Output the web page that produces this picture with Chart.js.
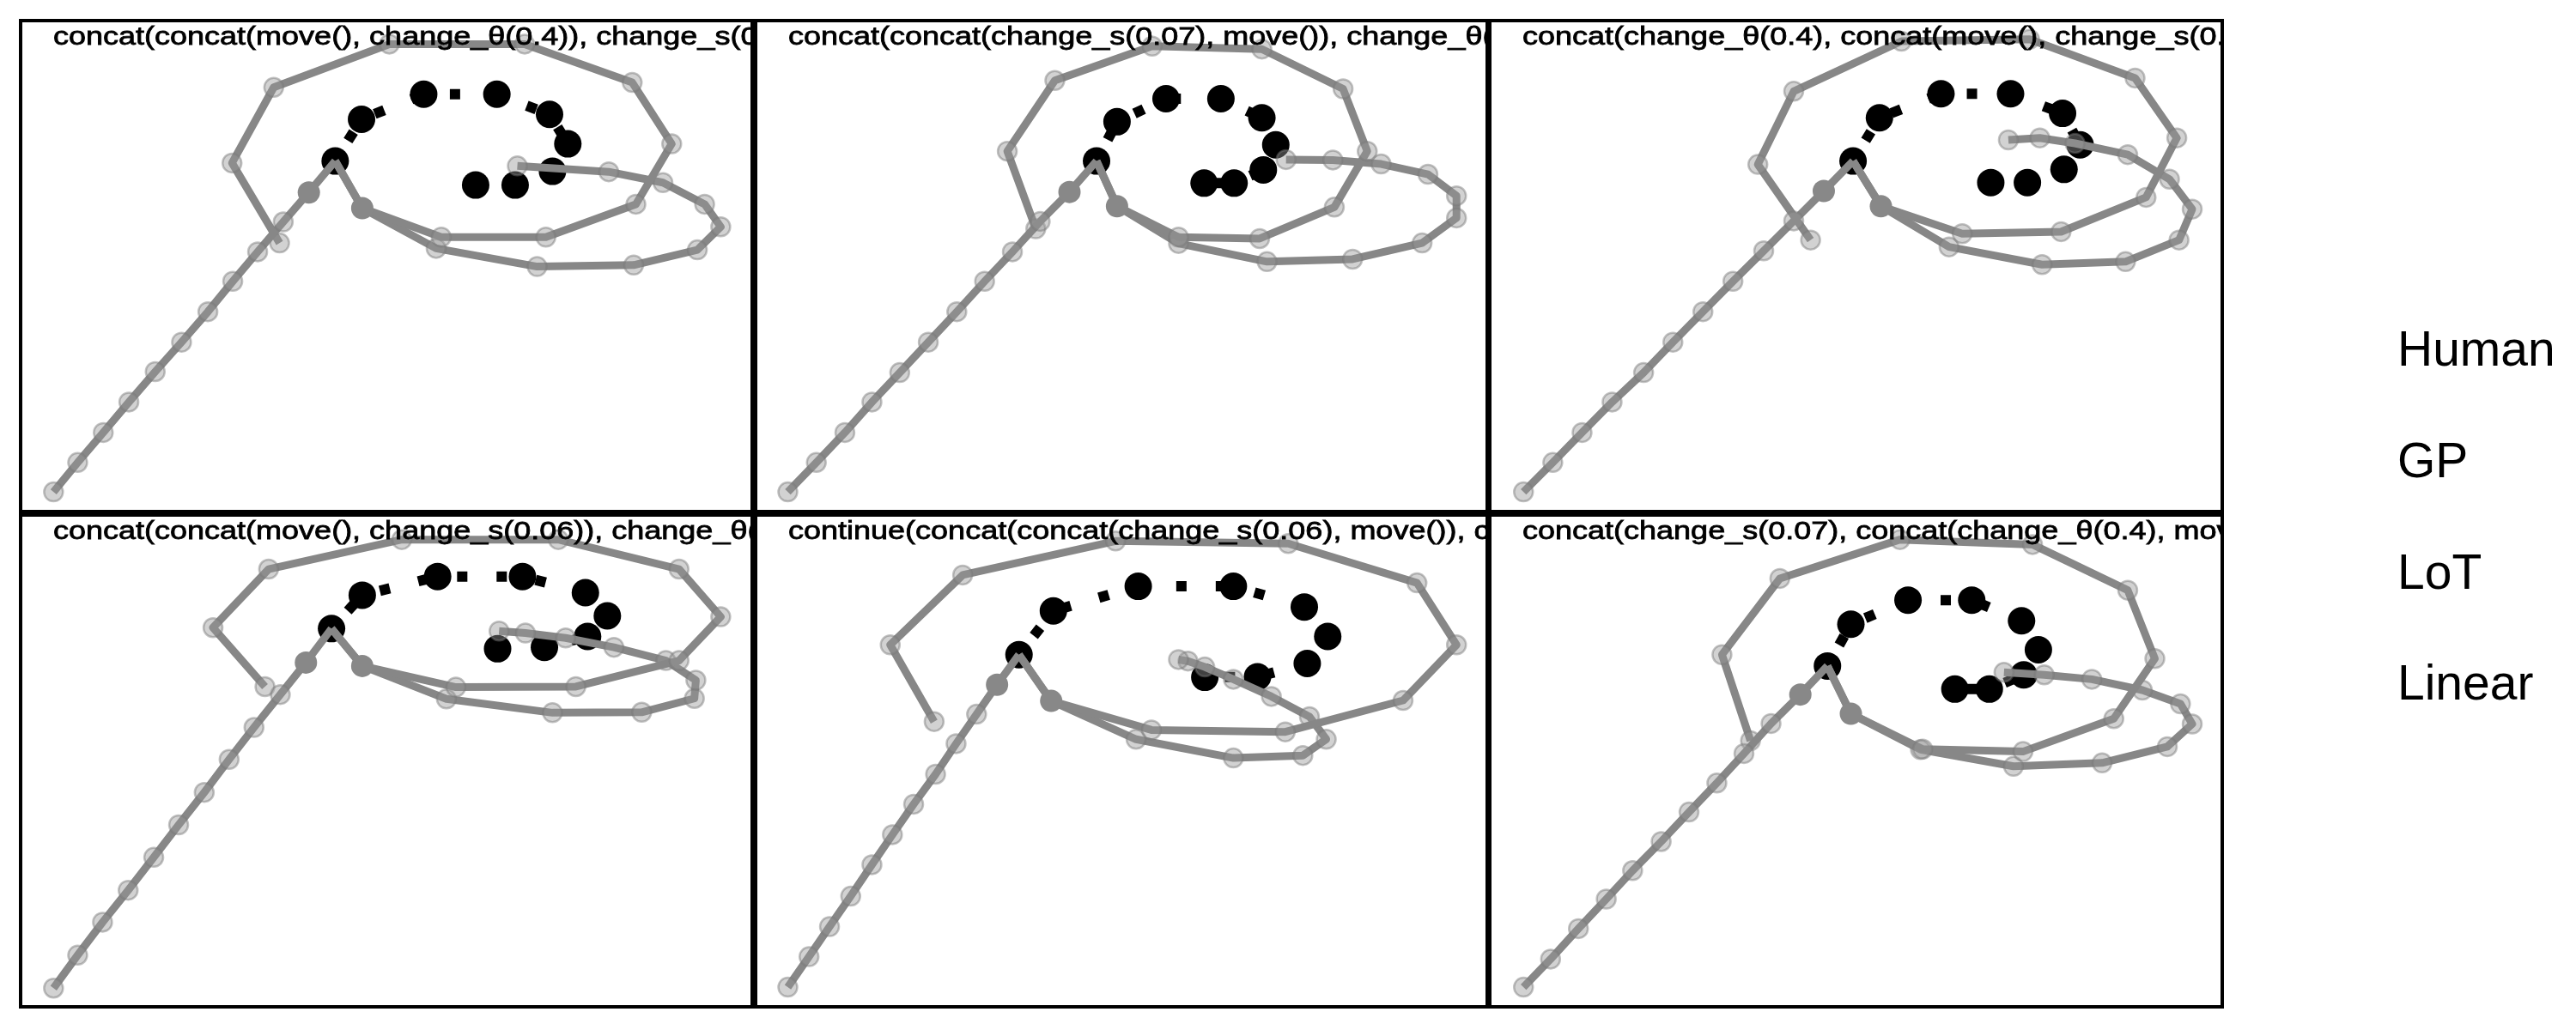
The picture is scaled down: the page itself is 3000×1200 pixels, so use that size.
<!DOCTYPE html>
<html>
<head>
<meta charset="utf-8">
<script src="https://cdn.jsdelivr.net/npm/chart.js@4.4.0/dist/chart.umd.min.js"></script>
<style>
  html, body { margin: 0; padding: 0; background: #ffffff; }
  body { width: 3000px; height: 1200px; position: relative; overflow: hidden; }
  canvas.panel { position: absolute; }
  .frame { position: absolute; box-sizing: border-box; border: 4px solid #000; pointer-events: none; }
  .leg { position: absolute; left: 2792px; font-family: "Liberation Sans", Arial, Helvetica, sans-serif; font-size: 57px; line-height: 57px; color: #000; white-space: nowrap; }
</style>
</head>
<body>
<script>
// ---------- data (panel-relative units, 0..100 in x and y) ----------
const titles = [
  "concat(concat(move(), change_θ(0.4)), change_s(0.07))",
  "concat(concat(change_s(0.07), move()), change_θ(0.4))",
  "concat(change_θ(0.4), concat(move(), change_s(0.07)))",
  "concat(concat(move(), change_s(0.06)), change_θ(0.4))",
  "continue(concat(concat(change_s(0.06), move()), change_θ(0.4)))",
  "concat(change_s(0.07), concat(change_θ(0.4), move()))"
];
const legendLabels = ["Human", "GP", "LoT", "Linear"];

// Panel 1
const p1Human = [[43.0,71.4],[46.6,79.9],[55.1,85.0],[65.1,85.0],[72.3,80.9],[74.8,74.9],[72.7,69.3],[67.6,66.5],[62.2,66.5]];
const p1Context = [[39.4,65.0],[46.7,61.8]];
const p1Linear = [[43.0,71.4],[39.4,65.0],[35.9,59.0],[32.4,52.9],[29.0,46.9],[25.6,40.7],[22.0,34.5],[18.4,28.5],[14.8,22.3],[11.3,16.1],[7.8,10.0],[4.5,4.0]];
const p1LoopA = [[43.0,71.4],[46.7,61.8],[57.5,55.9],[71.8,55.9],[84.1,62.6],[89.0,74.9],[83.6,87.4],[68.9,95.2],[50.4,95.2],[34.6,86.4],[28.9,71.0],[35.4,54.7]];
const p1LoopB = [[43.0,71.4],[46.7,61.8],[56.8,53.6],[70.6,49.9],[83.8,50.2],[92.5,53.3],[95.7,58.0],[93.5,62.6],[87.8,67.0],[80.4,69.2],[67.9,70.4]];

// Panel 2
const p2Human = [[46.6,71.4],[49.4,79.4],[56.1,84.1],[63.6,84.1],[69.2,80.2],[71.1,74.7],[69.4,69.6],[65.4,66.9],[61.3,66.9]];
const p2Context = [[42.9,65.1],[49.4,62.2]];
const p2Linear = [[46.6,71.4],[42.9,65.1],[38.9,59.1],[35.1,52.9],[31.3,46.9],[27.5,40.7],[23.6,34.5],[19.7,28.3],[15.9,22.3],[12.2,16.1],[8.3,10.0],[4.4,4.0]];
const p2LoopA = [[46.6,71.4],[49.4,62.2],[57.8,55.9],[68.9,55.6],[79.1,62.0],[83.6,73.4],[80.3,86.1],[69.2,94.2],[54.2,94.8],[40.9,87.8],[34.4,73.4],[38.3,57.6]];
const p2LoopB = [[46.6,71.4],[49.4,62.2],[57.8,54.6],[69.9,50.9],[81.6,51.4],[91.1,54.7],[95.8,59.8],[95.8,64.3],[91.9,68.7],[85.5,70.8],[78.9,71.6],[72.5,71.7]];

// Panel 3
const p3Human = [[49.6,71.4],[53.2,80.2],[61.6,85.1],[71.1,85.1],[78.2,81.1],[80.6,74.7],[78.4,69.7],[73.4,67.0],[68.4,67.0]];
const p3Context = [[45.6,65.3],[53.4,62.2]];
const p3Linear = [[49.6,71.4],[45.6,65.3],[41.5,59.2],[37.4,53.1],[33.2,46.9],[29.1,40.7],[25.0,34.5],[21.0,28.3],[16.7,22.3],[12.6,16.1],[8.6,10.0],[4.6,4.0]];
const p3LoopA = [[49.6,71.4],[53.4,62.2],[64.5,56.6],[78.0,57.0],[89.6,64.0],[93.8,76.1],[88.1,88.3],[73.7,96.2],[56.2,95.8],[41.5,85.6],[36.6,70.7],[43.8,55.3]];
const p3LoopB = [[49.6,71.4],[53.4,62.2],[62.7,53.9],[75.4,50.3],[86.8,50.9],[94.1,55.3],[95.9,61.6],[92.8,67.7],[87.1,72.7],[79.9,75.0],[75.1,76.1],[70.8,75.7]];

// Panel 4
const p4Human = [[42.5,76.9],[46.7,83.7],[57.0,87.5],[68.6,87.5],[77.2,84.2],[80.2,79.5],[77.5,75.3],[71.6,73.1],[65.2,72.8]];
const p4Context = [[39.0,70.0],[46.7,69.3]];
const p4Linear = [[42.5,76.9],[39.0,70.0],[35.5,63.5],[31.9,56.8],[28.5,50.3],[25.1,43.6],[21.6,37.0],[18.2,30.4],[14.7,23.7],[11.2,17.2],[7.8,10.5],[4.5,3.8]];
const p4LoopA = [[42.5,76.9],[46.7,69.3],[59.5,65.0],[75.9,65.1],[90.0,70.4],[95.7,79.3],[90.0,89.0],[73.5,95.0],[52.1,95.0],[33.9,89.0],[26.3,77.1],[33.4,65.1]];
const p4LoopB = [[42.5,76.9],[46.7,69.3],[58.2,62.6],[72.7,59.8],[84.9,59.9],[92.1,62.7],[92.3,66.4],[88.2,70.4],[81.1,73.1],[74.5,75.0],[69.0,76.0],[65.4,76.4]];

// Panel 5
const p5Human = [[36.0,71.6],[40.7,80.5],[52.3,85.5],[65.3,85.5],[75.0,81.3],[78.2,75.3],[75.4,69.8],[68.6,67.1],[61.4,67.0]];
const p5Context = [[33.0,65.5],[40.4,62.2]];
const p5Linear = [[36.0,71.6],[33.0,65.5],[30.2,59.5],[27.4,53.5],[24.6,47.3],[21.6,41.2],[18.7,35.0],[15.9,28.9],[13.0,22.5],[10.1,16.3],[7.3,10.2],[4.4,4.0]];
const p5LoopA = [[36.0,71.6],[40.4,62.2],[54.1,56.3],[72.4,55.9],[88.5,62.3],[95.8,73.6],[90.4,86.2],[72.8,94.2],[49.2,94.7],[28.3,87.8],[18.4,73.6],[24.4,58.0]];
const p5LoopB = [[36.0,71.6],[40.4,62.2],[52.0,54.4],[65.3,50.6],[74.8,51.1],[78.0,54.4],[75.7,59.0],[70.5,63.1],[65.3,66.6],[61.4,69.1],[59.1,70.3],[57.8,70.6]];

// Panel 6
const p6Human = [[46.1,69.3],[49.3,77.8],[57.1,82.7],[65.8,82.7],[72.6,78.5],[74.9,72.6],[72.9,67.5],[68.2,64.6],[63.5,64.6]];
const p6Context = [[42.4,63.5],[49.3,59.6]];
const p6Linear = [[46.1,69.3],[42.4,63.5],[38.4,57.6],[34.7,51.5],[31.0,45.5],[27.2,39.6],[23.4,33.6],[19.5,27.7],[15.9,21.9],[12.1,15.9],[8.3,9.7],[4.6,4.0]];
const p6LoopA = [[46.1,69.3],[49.3,59.6],[59.1,52.4],[72.8,51.9],[85.2,58.6],[90.8,70.8],[87.1,84.7],[74.1,94.0],[56.0,95.0],[39.6,87.1],[31.7,71.6],[35.6,54.1]];
const p6LoopB = [[46.1,69.3],[49.3,59.6],[58.8,52.3],[71.5,48.9],[83.6,49.6],[92.5,52.9],[95.9,57.5],[94.3,61.6],[89.1,64.4],[82.2,66.6],[75.7,67.5],[70.2,68.0]];

const panelData = [
  [p1Human, p1Context, p1Linear, p1LoopA, p1LoopB],
  [p2Human, p2Context, p2Linear, p2LoopA, p2LoopB],
  [p3Human, p3Context, p3Linear, p3LoopA, p3LoopB],
  [p4Human, p4Context, p4Linear, p4LoopA, p4LoopB],
  [p5Human, p5Context, p5Linear, p5LoopA, p5LoopB],
  [p6Human, p6Context, p6Linear, p6LoopA, p6LoopB]
];

// ---------- layout ----------
const colBoxes = [[24, 852], [880, 852], [1735, 853]];
const rowBoxes = [[24, 572], [600, 573]];

const titlePlugin = {
  id: 'panelTitle',
  afterDraw(chart, args, opts) {
    const ctx = chart.ctx;
    const a = chart.chartArea;
    ctx.save();
    ctx.beginPath();
    ctx.rect(0, 0, chart.width, chart.height);
    ctx.clip();
    ctx.fillStyle = '#000';
    ctx.strokeStyle = '#000';
    ctx.lineWidth = 0.8;
    ctx.font = '30px "Liberation Sans", Arial, Helvetica, sans-serif';
    ctx.textBaseline = 'alphabetic';
    ctx.translate(a.left + 38, a.top + 28);
    ctx.scale(1.2, 1);
    ctx.fillText(opts.text, 0, 0);
    ctx.strokeText(opts.text, 0, 0);
    ctx.restore();
  }
};

const toXY = arr => arr.map(p => ({ x: p[0], y: p[1] }));

function grayLine(arr, ord) {
  return {
    data: toXY(arr),
    showLine: true,
    borderColor: '#878787',
    borderWidth: 9,
    borderJoinStyle: 'round',
    tension: 0,
    pointRadius: c => (c.dataIndex < 2 ? 0 : 11),
    pointBackgroundColor: 'rgba(151,151,151,0.43)',
    pointBorderColor: 'rgba(120,120,120,0.45)',
    pointBorderWidth: 2.5,
    order: ord
  };
}

panelData.forEach((d, i) => {
  const col = colBoxes[i % 3];
  const row = rowBoxes[Math.floor(i / 3)];
  const cv = document.createElement('canvas');
  cv.className = 'panel';
  cv.width = col[1];
  cv.height = row[1];
  cv.style.left = col[0] + 'px';
  cv.style.top = row[0] + 'px';
  document.body.appendChild(cv);

  const fr = document.createElement('div');
  fr.className = 'frame';
  fr.style.left = (col[0] - 2) + 'px';
  fr.style.top = (row[0] - 2) + 'px';
  fr.style.width = (col[1] + 4) + 'px';
  fr.style.height = (row[1] + 4) + 'px';
  document.body.appendChild(fr);

  const [human, context, linear, loopA, loopB] = d;
  new Chart(cv, {
    type: 'scatter',
    data: {
      datasets: [
        {
          data: toXY(context),
          showLine: false,
          pointRadius: 13,
          pointBackgroundColor: '#888888',
          pointBorderWidth: 0,
          order: 0
        },
        grayLine(linear, 1),
        grayLine(loopA, 2),
        grayLine(loopB, 3),
        {
          data: toXY(human),
          showLine: true,
          borderColor: '#000000',
          borderWidth: 12,
          borderDash: [12, 34],
          borderDashOffset: 18,
          borderCapStyle: 'butt',
          tension: 0,
          pointRadius: 16,
          pointBackgroundColor: '#000000',
          pointBorderWidth: 0,
          order: 4
        }
      ]
    },
    options: {
      responsive: false,
      animation: false,
      devicePixelRatio: 1,
      layout: { padding: 0, autoPadding: false },
      events: [],
      plugins: {
        legend: { display: false },
        tooltip: { enabled: false },
        title: { display: false },
        panelTitle: { text: titles[i] }
      },
      scales: {
        x: { type: 'linear', min: 0, max: 100, display: false },
        y: { type: 'linear', min: 0, max: 100, display: false }
      }
    },
    plugins: [titlePlugin]
  });
});

// legend text (no markers, as in the reference)
const legendTops = [378, 508, 638, 767];
legendLabels.forEach((t, k) => {
  const el = document.createElement('div');
  el.className = 'leg';
  el.style.top = legendTops[k] + 'px';
  el.textContent = t;
  document.body.appendChild(el);
});
</script>
</body>
</html>
